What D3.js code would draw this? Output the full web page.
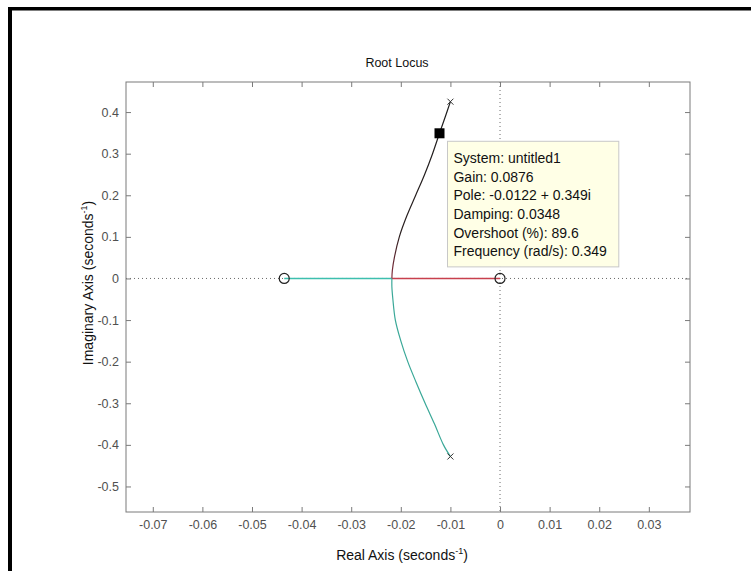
<!DOCTYPE html>
<html>
<head>
<meta charset="utf-8">
<script src="https://cdn.jsdelivr.net/npm/d3@7"></script>
<style>
  html, body { margin: 0; padding: 0; background: #fff; }
  svg { display: block; }
  text { font-family: Arial, "Liberation Sans", Helvetica, sans-serif; }
</style>
</head>
<body>
<svg id="chart" width="751" height="571"></svg>
<script>
// ---------------- data ----------------
const titleText = "Root Locus";
const xTicks = [-0.07, -0.06, -0.05, -0.04, -0.03, -0.02, -0.01, 0, 0.01, 0.02, 0.03];
const xTickLabels = ["-0.07", "-0.06", "-0.05", "-0.04", "-0.03", "-0.02", "-0.01", "0", "0.01", "0.02", "0.03"];
const yTicks = [0.4, 0.3, 0.2, 0.1, 0, -0.1, -0.2, -0.3, -0.4, -0.5];
const yTickLabels = ["0.4", "0.3", "0.2", "0.1", "0", "-0.1", "-0.2", "-0.3", "-0.4", "-0.5"];
const xDomain = [-0.0754, 0.0383];
const yDomain = [-0.5614, 0.4723];

const polesRe = [-0.0100, -0.0100];
const polesIm = [0.425, -0.428];
const zerosRe = [-0.0435, 0];
const zerosIm = [0, 0];

// upper complex branch (pole -> break-in)
const upperRe = [-0.0100, -0.0110, -0.0122, -0.0136, -0.0152, -0.0170, -0.0188, -0.0203, -0.0213, -0.0217, -0.0218];
const upperIm = [0.425, 0.390, 0.349, 0.300, 0.250, 0.200, 0.150, 0.100, 0.050, 0.020, 0];
// lower complex branch (pole -> break-in)
const lowerRe = [-0.0100, -0.0114, -0.0132, -0.0151, -0.0169, -0.0186, -0.0200, -0.0211, -0.0216, -0.0218, -0.0218];
const lowerIm = [-0.428, -0.400, -0.350, -0.300, -0.250, -0.200, -0.150, -0.100, -0.050, -0.020, 0];
// real-axis branches
const breakIn = -0.0218;
const leftSegRe = [breakIn, -0.0435];
const rightSegRe = [breakIn, 0];

const tipRe = -0.0122;
const tipIm = 0.349;
const tipLines = [
  "System: untitled1",
  "Gain: 0.0876",
  "Pole: -0.0122 + 0.349i",
  "Damping: 0.0348",
  "Overshoot (%): 89.6",
  "Frequency (rad/s): 0.349"
];

// ---------------- layout ----------------
const L = 126, R = 690, T = 82, B = 512;
const svg = d3.select("#chart");

// outer frame (only top and left edges visible in the reference)
svg.append("rect").attr("x", 8).attr("y", 7).attr("width", 751).attr("height", 3.5).attr("fill", "#000");
svg.append("rect").attr("x", 8).attr("y", 7).attr("width", 4).attr("height", 571).attr("fill", "#000");

const x = d3.scaleLinear().domain(xDomain).range([L, R]);
const y = d3.scaleLinear().domain(yDomain).range([B, T]);

const axisColor = "#7a7a7a";
const tickTextColor = "#505050";

// dotted zero lines
svg.append("line").attr("x1", L).attr("x2", R).attr("y1", y(0)).attr("y2", y(0))
  .attr("stroke", "#6a6a6a").attr("stroke-width", 1).attr("stroke-dasharray", "1,3");
svg.append("line").attr("x1", x(0)).attr("x2", x(0)).attr("y1", T).attr("y2", B)
  .attr("stroke", "#6a6a6a").attr("stroke-width", 1).attr("stroke-dasharray", "1,3");

// axes with inward ticks
function styleAxis(g) {
  g.attr("font-size", null);
  g.select(".domain").remove();
  g.selectAll(".tick line").attr("stroke", axisColor);
  g.selectAll(".tick text").attr("fill", tickTextColor).style("font-size", "12.5px");
}
const xAxis = d3.axisBottom(x).tickValues(xTicks).tickSize(-5).tickPadding(8)
  .tickFormat((d, i) => xTickLabels[i]);
svg.append("g").attr("transform", `translate(0,${B})`).call(xAxis).call(styleAxis);
svg.append("g").attr("transform", `translate(0,${T})`)
  .call(d3.axisTop(x).tickValues(xTicks).tickSize(-5).tickFormat(""))
  .call(styleAxis);
const yAxis = d3.axisLeft(y).tickValues(yTicks).tickSize(-5).tickPadding(7)
  .tickFormat((d, i) => yTickLabels[i]);
svg.append("g").attr("transform", `translate(${L},0)`).call(yAxis).call(styleAxis);
svg.append("g").attr("transform", `translate(${R},0)`)
  .call(d3.axisRight(y).tickValues(yTicks).tickSize(-5).tickFormat(""))
  .call(styleAxis);

// box
svg.append("rect").attr("x", L).attr("y", T).attr("width", R - L).attr("height", B - T)
  .attr("fill", "none").attr("stroke", axisColor).attr("stroke-width", 1);

// gradient for upper branch (dark, reddish near the axis)
const defs = svg.append("defs");
const grad = defs.append("linearGradient").attr("id", "upGrad")
  .attr("gradientUnits", "userSpaceOnUse")
  .attr("x1", 0).attr("y1", y(upperIm[0])).attr("x2", 0).attr("y2", y(0));
grad.append("stop").attr("offset", "0%").attr("stop-color", "#1e1e1e");
grad.append("stop").attr("offset", "75%").attr("stop-color", "#2a2020");
grad.append("stop").attr("offset", "100%").attr("stop-color", "#8a3040");

const line = d3.line().x(d => x(d[0])).y(d => y(d[1])).curve(d3.curveCatmullRom);
const straight = d3.line().x(d => x(d[0])).y(d => y(d[1]));

// real-axis branches
svg.append("path").datum(leftSegRe.map(v => [v, 0])).attr("d", straight)
  .attr("fill", "none").attr("stroke", "#3dbfae").attr("stroke-width", 1.4);
svg.append("path").datum(rightSegRe.map(v => [v, 0])).attr("d", straight)
  .attr("fill", "none").attr("stroke", "#c8404e").attr("stroke-width", 1.4);

// complex branches
svg.append("path").datum(upperRe.map((v, i) => [v, upperIm[i]])).attr("d", line)
  .attr("fill", "none").attr("stroke", "url(#upGrad)").attr("stroke-width", 1.2);
svg.append("path").datum(lowerRe.map((v, i) => [v, lowerIm[i]])).attr("d", line)
  .attr("fill", "none").attr("stroke", "#3aa898").attr("stroke-width", 1.2);

// zeros
svg.selectAll(".zero").data(zerosRe.map((v, i) => [v, zerosIm[i]])).enter().append("circle")
  .attr("cx", d => x(d[0])).attr("cy", d => y(d[1])).attr("r", 5)
  .attr("fill", "none").attr("stroke", "#222").attr("stroke-width", 1.2);

// poles
const pk = 3;
polesRe.forEach((v, i) => {
  const cx = x(v), cy = y(polesIm[i]);
  svg.append("path").attr("d", `M${cx - pk},${cy - pk}L${cx + pk},${cy + pk}M${cx - pk},${cy + pk}L${cx + pk},${cy - pk}`)
    .attr("stroke", "#333").attr("stroke-width", 1);
});

// data tip marker
const mx = x(tipRe), my = y(tipIm);
svg.append("rect").attr("x", mx - 5).attr("y", my - 5).attr("width", 10).attr("height", 10).attr("fill", "#000");

// tooltip box
const tipG = svg.append("g");
const tipX = mx + 8, tipY = my + 8;
const lineH = 18.6;
const texts = tipG.selectAll("text").data(tipLines).enter().append("text")
  .attr("x", tipX + 6).attr("y", (d, i) => tipY + 22 + i * lineH)
  .attr("fill", "#111").style("font-size", "14px").text(d => d);
let maxW = 0;
texts.each(function () { maxW = Math.max(maxW, this.getComputedTextLength()); });
tipG.insert("rect", "text").attr("x", tipX).attr("y", tipY)
  .attr("width", maxW + 18).attr("height", lineH * tipLines.length + 14)
  .attr("fill", "#ffffe6").attr("stroke", "#c8c8c8").attr("stroke-width", 1);

// title and axis labels
svg.append("text").attr("x", 397).attr("y", 67).attr("text-anchor", "middle")
  .style("font-size", "12.5px").attr("fill", "#111").text(titleText);

const xl = svg.append("text").attr("x", 402).attr("y", 560).attr("text-anchor", "middle")
  .style("font-size", "14px").attr("fill", "#111");
xl.append("tspan").text("Real Axis (seconds");
xl.append("tspan").attr("dy", -6).style("font-size", "9px").text("-1");
xl.append("tspan").attr("dy", 6).text(")");

const yl = svg.append("text").attr("transform", `translate(93,283) rotate(-90)`)
  .attr("text-anchor", "middle").style("font-size", "14px").attr("fill", "#111");
yl.append("tspan").text("Imaginary Axis (seconds");
yl.append("tspan").attr("dy", -6).style("font-size", "9px").text("-1");
yl.append("tspan").attr("dy", 6).text(")");
</script>
</body>
</html>
